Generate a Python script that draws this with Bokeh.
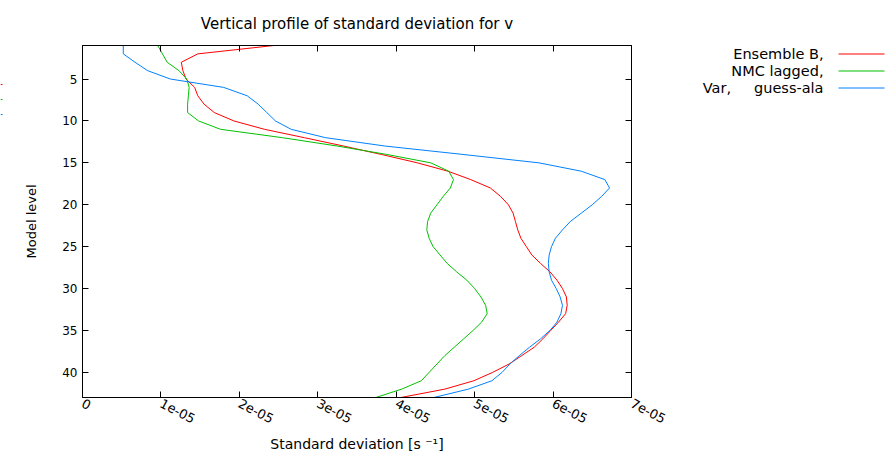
from bokeh.plotting import figure
from bokeh.models import Range1d, LinearAxis, FixedTicker
from bokeh.layouts import row
from bokeh.embed import file_html
from bokeh.resources import INLINE
from bokeh.core.properties import value

# Model levels 1..43
levels = list(range(1, 44))

# Standard deviation values in units of 1e-05 s^-1
ensemble_b = [2.44, 1.47, 1.26, 1.28, 1.32, 1.43, 1.47, 1.55, 1.68, 1.93,
              2.32, 2.83, 3.33, 3.81, 4.27, 4.66, 4.95, 5.20, 5.33, 5.43,
              5.49, 5.52, 5.55, 5.59, 5.66, 5.73, 5.84, 5.96, 6.05, 6.12,
              6.17, 6.18, 6.16, 6.07, 5.97, 5.87, 5.76, 5.60, 5.44, 5.23,
              4.99, 4.62, 4.06]
nmc_lagged = [0.96, 1.02, 1.08, 1.23, 1.33, 1.36, 1.35, 1.34, 1.34, 1.48,
              1.76, 2.55, 3.25, 3.88, 4.44, 4.67, 4.73, 4.69, 4.60, 4.52,
              4.44, 4.40, 4.39, 4.42, 4.47, 4.56, 4.65, 4.77, 4.90, 5.00,
              5.08, 5.14, 5.16, 5.09, 4.98, 4.86, 4.74, 4.62, 4.52, 4.42,
              4.32, 4.07, 3.74]
var_guess = [0.52, 0.52, 0.67, 0.83, 1.12, 1.80, 2.10, 2.24, 2.35, 2.46,
             2.66, 3.10, 3.86, 4.85, 5.82, 6.36, 6.66, 6.72, 6.62, 6.50,
             6.36, 6.22, 6.12, 6.03, 5.98, 5.95, 5.94, 5.95, 5.98, 6.04,
             6.09, 6.12, 6.10, 6.05, 5.96, 5.84, 5.70, 5.57, 5.45, 5.35,
             5.22, 4.92, 4.48]

series_names = ["Ensemble B,", "NMC lagged,", "Var,\u00a0\u00a0\u00a0\u00a0 guess-ala"]
series_colors = ["#ff0000", "#00c000", "#0080ff"]

x_ticks = [0, 1, 2, 3, 4, 5, 6, 7]
x_tick_labels = ["0", "1e-05", "2e-05", "3e-05", "4e-05", "5e-05", "6e-05", "7e-05"]
y_ticks = [5, 10, 15, 20, 25, 30, 35, 40]

title_text = "Vertical profile of standard deviation for v"
x_label = "Standard deviation [s\u00a0\u207b\u00b9]"
y_label = "Model level"

FONT = "DejaVu Sans"
TXT = "#000000"

p = figure(width=676, height=462, x_range=Range1d(0, 7), y_range=Range1d(43, 1),
           output_backend="svg", toolbar_location=None,
           min_border_left=78, min_border_right=49, min_border_top=45, min_border_bottom=65)
p.background_fill_color = "white"
p.border_fill_color = "white"
p.outline_line_color = "black"
p.outline_line_width = 1
p.grid.visible = False

p.title.text = title_text
p.title.align = "center"
p.title.text_font = FONT
p.title.text_font_size = "15px"
p.title.text_font_style = "normal"
p.title.text_color = TXT
p.title.standoff = 25

xa = p.below[0]
ya = p.left[0]
xa.ticker = FixedTicker(ticks=x_ticks)
xa.major_label_overrides = {t: l for t, l in zip(x_ticks, x_tick_labels)}
xa.major_label_orientation = -0.48
ya.ticker = FixedTicker(ticks=y_ticks)

for ax in (xa, ya):
    ax.major_tick_in = 6
    ax.major_tick_out = 0
    ax.minor_tick_line_color = None
    ax.axis_line_color = "black"
    ax.major_tick_line_color = "black"
    ax.major_label_text_font = FONT
    ax.major_label_text_color = TXT
    ax.axis_label_text_font = FONT
    ax.axis_label_text_font_size = "13px"
    ax.axis_label_text_font_style = "normal"
    ax.axis_label_text_color = TXT
xa.major_label_text_font_size = "13px"
ya.major_label_text_font_size = "12px"
xa.axis_label_text_font_size = "14px"
ya.axis_label_standoff = 20

xa.axis_label = x_label
ya.axis_label = y_label

top = LinearAxis(ticker=FixedTicker(ticks=x_ticks),
                 major_label_overrides={t: "" for t in x_ticks},
                 major_label_standoff=0,
                 major_tick_in=6, major_tick_out=0, minor_tick_line_color=None,
                 axis_line_color="black")
right = LinearAxis(ticker=FixedTicker(ticks=y_ticks),
                   major_label_overrides={t: "" for t in y_ticks},
                   major_label_standoff=0,
                   major_tick_in=6, major_tick_out=0, minor_tick_line_color=None,
                   axis_line_color="black")
p.add_layout(top, "above")
p.add_layout(right, "right")

for vals, col in zip([ensemble_b, nmc_lagged, var_guess], series_colors):
    p.line(vals, levels, line_color=col, line_width=1)

# Thin strip at the far left with the clipped ends of a second key
sf = figure(width=4, height=462, x_range=Range1d(0, 4), y_range=Range1d(397, 45),
            output_backend="svg", toolbar_location=None,
            x_axis_location=None, y_axis_location=None,
            min_border_left=0, min_border_right=0,
            min_border_top=45, min_border_bottom=65)
sf.outline_line_color = None
sf.grid.visible = False
sf.title.visible = False
strip_y = [84, 99, 114]
sf.segment(x0=[0] * 3, y0=strip_y, x1=[2] * 3, y1=strip_y,
           line_color=series_colors, line_width=1)

# Legend panel (its frame is given the same vertical extent as the plot frame;
# its ranges are in page pixels so the key sits where the reference has it)
lf = figure(width=214, height=462, x_range=Range1d(680, 894), y_range=Range1d(397, 45),
            output_backend="svg", toolbar_location=None,
            x_axis_location=None, y_axis_location=None,
            min_border_left=0, min_border_right=0,
            min_border_top=45, min_border_bottom=65)
lf.outline_line_color = None
lf.grid.visible = False
leg_y = [53.5, 70.5, 87.5]
lf.text(x=[823] * 3, y=leg_y, text=series_names, text_align="right",
        text_baseline="middle", text_font=value(FONT), text_font_size="14.5px",
        text_color=TXT)
lf.segment(x0=[838] * 3, y0=leg_y, x1=[884] * 3, y1=leg_y,
           line_color=series_colors, line_width=1)

layout = row(sf, p, lf)
open("out.html", "w").write(file_html(layout, INLINE))
